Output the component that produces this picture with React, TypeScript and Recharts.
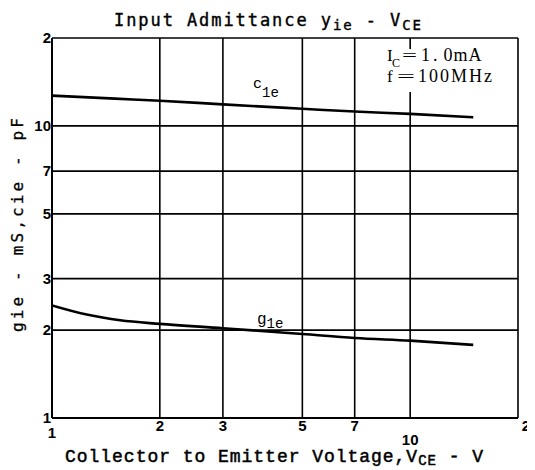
import React from "react";
import { LineChart, Line, XAxis, YAxis, CartesianGrid } from "recharts";

const xTicks = [1, 2, 3, 5, 7, 10, 20];
const yTicks = [1, 2, 3, 5, 7, 10, 20];
const xTickLabels: Record<number, string> = { 1: "1", 2: "2", 3: "3", 5: "5", 7: "7", 10: "10", 20: "2" };
const yTickLabels: Record<number, string> = { 1: "1", 2: "2", 3: "3", 5: "5", 7: "7", 10: "10", 20: "2" };

const cieVce = [1, 1.5, 2, 3, 5, 7, 10, 15];
const cieVals = [12.7, 12.4, 12.2, 11.85, 11.45, 11.2, 11.0, 10.7];

const gieVce = [1, 1.25, 1.55, 2, 3, 5, 7, 10, 15];
const gieVals = [2.43, 2.26, 2.16, 2.1, 2.03, 1.94, 1.88, 1.84, 1.78];

const cieData = cieVce.map((v, i) => ({ v, y: cieVals[i] }));
const gieData = gieVce.map((v, i) => ({ v, y: gieVals[i] }));

const tickFont = "'Liberation Sans Narrow', 'Liberation Sans', Arial, sans-serif";
const serif = "'Liberation Serif', 'Times New Roman', serif";
const mono = "'Liberation Mono', 'Courier New', monospace";

const XTick = (props: any) => {
  const { x, y, payload } = props;
  const val = payload.value;
  let dy = 13;
  if (val === 1) dy = 20;
  if (val === 10) dy = 27;
  let dx = 0;
  if (val === 20) dx = 8;
  return (
    <text x={x + dx} y={y + dy} textAnchor="middle" fontFamily={tickFont} fontWeight="bold" fontSize={15} fill="#000">
      {xTickLabels[val]}
    </text>
  );
};

const YTick = (props: any) => {
  const { x, y, payload } = props;
  const val = payload.value;
  return (
    <text x={x - 1} y={y + 5} textAnchor="end" fontFamily={tickFont} fontWeight="bold" fontSize={15} fill="#000">
      {yTickLabels[val]}
    </text>
  );
};

export default function App() {
  return (
    <div style={{ position: "relative", width: 527, height: 462, background: "#fff" }}>
      <LineChart width={527} height={462} margin={{ top: 30, right: 17, left: 0, bottom: 0 }}>
        <CartesianGrid stroke="#000" strokeWidth={1.6} />
        <XAxis
          dataKey="v"
          type="number"
          scale="log"
          domain={[1, 20]}
          ticks={xTicks}
          allowDataOverflow
          height={52}
          tickSize={0}
          tickMargin={0}
          tickLine={false}
          axisLine={{ stroke: "#000", strokeWidth: 2 }}
          tick={<XTick />}
          interval={0}
        />
        <YAxis
          type="number"
          scale="log"
          domain={[1, 20]}
          ticks={yTicks}
          allowDataOverflow
          width={44}
          tickSize={0}
          tickMargin={0}
          tickLine={false}
          axisLine={{ stroke: "#000", strokeWidth: 2 }}
          tick={<YTick />}
          interval={0}
        />
        <Line data={cieData} dataKey="y" type="monotone" stroke="#000" strokeWidth={2.6} dot={false} isAnimationActive={false} />
        <Line data={gieData} dataKey="y" type="monotone" stroke="#000" strokeWidth={2.6} dot={false} isAnimationActive={false} />
      </LineChart>
      <svg width={527} height={462} style={{ position: "absolute", left: 0, top: 0, pointerEvents: "none" }}>
        <text x={106} y={18} fontFamily="'DejaVu Sans Mono', monospace" fontSize={17} fill="#000" stroke="#000" strokeWidth={0.4} textLength={307} lengthAdjust="spacing">
          Input Admittance y<tspan fontSize={14} dy={4}>ie</tspan><tspan dy={-4}> - V</tspan><tspan fontSize={14} dy={4}>CE</tspan>
        </text>
        <text
          x={15}
          y={217}
          transform="rotate(-90 15 217)"
          textAnchor="middle"
          fontFamily="'DejaVu Sans Mono', monospace"
          fontSize={16}
          fill="#000"
          stroke="#000"
          strokeWidth={0.3}
          textLength={214}
          lengthAdjust="spacing"
        >
          gie - mS,cie - pF
        </text>
        <text x={57} y={454} fontFamily={mono} fontSize={18} fill="#000" stroke="#000" strokeWidth={0.5} textLength={418} lengthAdjust="spacing">
          Collector to Emitter Voltage,V<tspan fontSize={14} dy={3}>CE</tspan><tspan dy={-3}> - V</tspan>
        </text>
        <text x={245} y={80} fontFamily={mono} fontSize={15} fill="#000">
          c<tspan fontSize={14} dy={9}>1e</tspan>
        </text>
        <text x={249} y={316} fontFamily={mono} fontSize={16} fill="#000">
          g<tspan fontSize={14} dy={4}>1e</tspan>
        </text>
        <rect x={376} y={41} width={128} height={43} fill="#fff" />
        <text x={379} y={53} fontFamily={serif} fontSize={17} fill="#000">I</text>
        <text x={384} y={59} fontFamily={serif} fontSize={12} fill="#000">C</text>
        <text x={394} y={53} fontFamily={serif} fontSize={17} fill="#000" textLength={15} lengthAdjust="spacingAndGlyphs">=</text>
        <text x={413} y={53} dx="0 3 6 1 1" fontFamily={serif} fontSize={18} fill="#000">1.0mA</text>
        <text x={379} y={74} fontFamily={serif} fontSize={17} fill="#000">f</text>
        <text x={389} y={74} fontFamily={serif} fontSize={17} fill="#000" textLength={18} lengthAdjust="spacingAndGlyphs">=</text>
        <text x={410} y={74} dx="0 2 2 2 2 2" fontFamily={serif} fontSize={18} fill="#000">100MHz</text>
      </svg>
    </div>
  );
}
